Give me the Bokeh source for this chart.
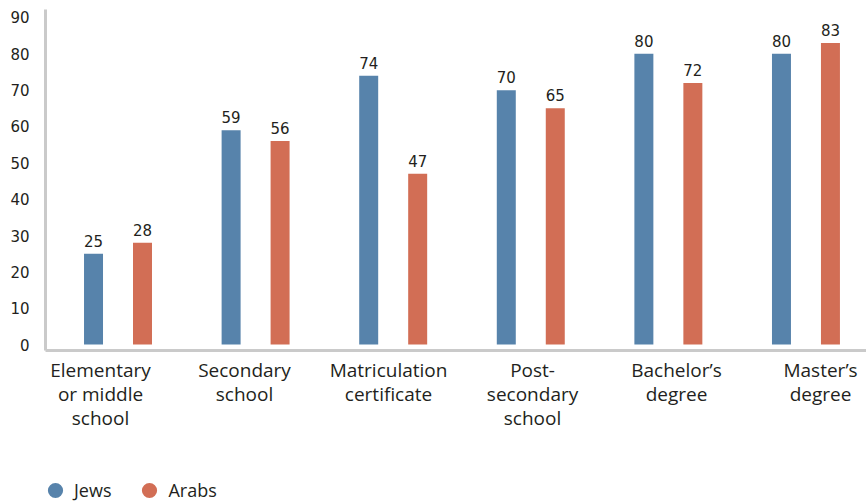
from bokeh.plotting import figure
from bokeh.models import (Range1d, LinearAxis, FixedTicker, ColumnDataSource,
                          Legend, LegendItem)
from bokeh.layouts import column
from bokeh.transform import dodge
from bokeh.core.properties import value
from bokeh.embed import file_html
from bokeh.resources import INLINE

categories = ["Elementary\nor middle\nschool", "Secondary\nschool",
              "Matriculation\ncertificate", "Post-\nsecondary\nschool",
              "Bachelor\u2019s\ndegree", "Master\u2019s\ndegree"]
series = ["Jews", "Arabs"]
jews = [25, 59, 74, 70, 80, 80]
arabs = [28, 56, 47, 65, 72, 83]
y_ticks = [0, 10, 20, 30, 40, 50, 60, 70, 80, 90]

BLUE = "#5783ab"
RED = "#d26e55"
TEXT = "#231f20"
AXIS = "#cacaca"

idx = list(range(len(categories)))
src = ColumnDataSource(dict(x=idx, jews=jews, arabs=arabs,
                            jl=[str(v) for v in jews],
                            al=[str(v) for v in arabs]))

p = figure(width=866, height=445,
           x_range=Range1d(-0.527, 5.44), y_range=Range1d(-1.65, 92.2),
           x_axis_type=None, output_backend="svg", toolbar_location=None,
           min_border_left=45, min_border_right=0, min_border_top=9,
           min_border_bottom=95)
p.outline_line_color = None
p.grid.visible = False
p.background_fill_color = "white"
p.border_fill_color = "white"

p.extra_x_ranges = {"lab": Range1d(-0.382, 5.319)}
xa = LinearAxis(x_range_name="lab", ticker=FixedTicker(ticks=idx),
                major_label_overrides={i: c for i, c in enumerate(categories)})
xa.axis_line_color = AXIS
xa.axis_line_width = 3
xa.major_tick_line_color = None
xa.major_tick_out = 0
xa.minor_tick_line_color = None
xa.major_label_standoff = 6
xa.major_label_text_font = "Open Sans"
xa.major_label_text_font_size = "19px"
xa.major_label_text_color = TEXT
xa.major_label_text_line_height = 0.93
p.add_layout(xa, "below")

ya = p.yaxis[0]
ya.ticker = FixedTicker(ticks=y_ticks)
ya.axis_line_color = AXIS
ya.axis_line_width = 3
ya.major_tick_line_color = None
ya.major_tick_out = 0
ya.minor_tick_line_color = None
ya.major_label_standoff = 16
ya.major_label_text_font = "DejaVu Sans"
ya.major_label_text_font_size = "15px"
ya.major_label_text_color = TEXT

off = 0.178
bw = 0.138
p.vbar(x=dodge("x", -off), top="jews", bottom=0, width=bw, source=src,
       fill_color=BLUE, line_color=None)
p.vbar(x=dodge("x", off), top="arabs", bottom=0, width=bw, source=src,
       fill_color=RED, line_color=None)

for col, lab, d in (("jews", "jl", -off), ("arabs", "al", off)):
    p.text(x=dodge("x", d), y=col, text=lab, source=src,
           text_align="center", text_baseline="alphabetic", y_offset=-13,
           text_font=value("DejaVu Sans"), text_font_size="15px",
           text_color=TEXT)

# legend strip (legend swatches are hidden proxy renderers of the series)
q = figure(width=866, height=57, x_range=Range1d(0, 1), y_range=Range1d(0, 1),
           x_axis_type=None, y_axis_type=None, output_backend="svg",
           toolbar_location=None, min_border=0)
q.outline_line_color = None
q.grid.visible = False
r_j = q.scatter(x="x", y="jews", source=src, marker="circle",
                fill_color=BLUE, line_color=None, visible=False)
r_a = q.scatter(x="x", y="arabs", source=src, marker="circle",
                fill_color=RED, line_color=None, visible=False)
legend = Legend(items=[LegendItem(label=series[0], renderers=[r_j]),
                       LegendItem(label=series[1], renderers=[r_a])],
                orientation="horizontal", location=(-9, -7),
                glyph_width=38, glyph_height=38, label_standoff=-9,
                spacing=19, padding=0, margin=0,
                inactive_fill_alpha=0,
                border_line_color=None, background_fill_alpha=0,
                label_text_font="Open Sans", label_text_font_size="18px",
                label_text_color=TEXT)
q.add_layout(legend)

open("out.html", "w").write(file_html(column(p, q, spacing=0), INLINE))
